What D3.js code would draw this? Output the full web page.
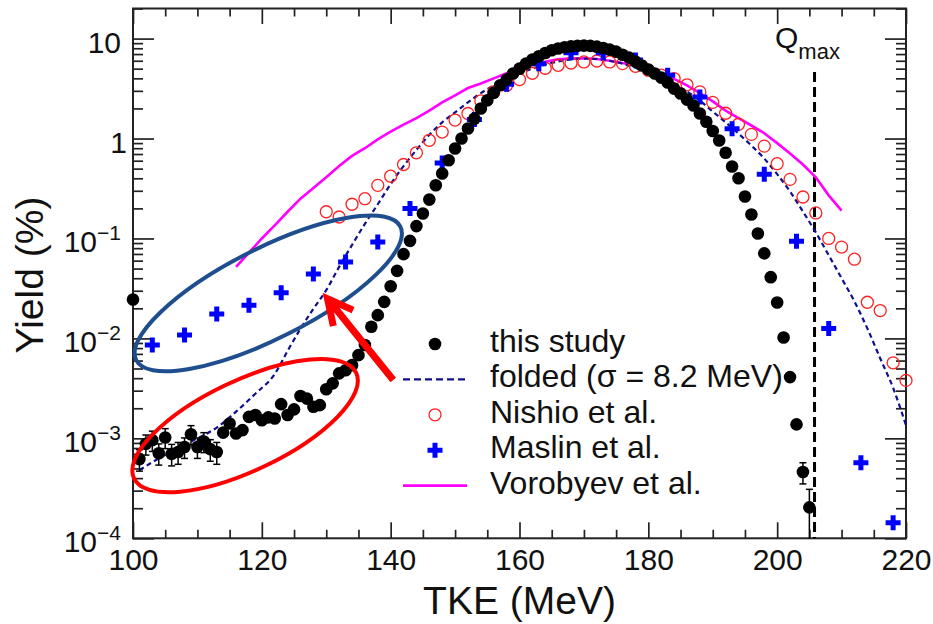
<!DOCTYPE html>
<html>
<head>
<meta charset="utf-8">
<script src="https://cdn.jsdelivr.net/npm/d3@7"></script>
<style>
  body { margin: 0; background: #fff; }
  svg { display: block; font-family: "Liberation Sans", Arial, sans-serif; }
</style>
</head>
<body>
<svg id="chart" width="933" height="624"></svg>
<script>
// this study (1 MeV bins)
const studyTke = [100,101,102,103,104,105,106,107,108,109,110,111,112,113,114,115,116,117,118,119,
  120,121,122,123,124,125,126,127,128,129,130,131,132,133,134,135,136,137,138,139,
  140,141,142,143,144,145,146,147,148,149,150,151,152,153,154,155,156,157,158,159,
  160,161,162,163,164,165,166,167,168,169,170,171,172,173,174,175,176,177,178,179,
  180,181,182,183,184,185,186,187,188,189,190,191,192,193,194,195,196,197,198,199,
  200,201,202,203,204,205];
const studyYield = [0.0245,6.2e-4,8.8e-4,9.6e-4,7.1e-4,1.02e-3,7.0e-4,7.3e-4,8.2e-4,1.1e-3,8.2e-4,9.3e-4,7.8e-4,7.3e-4,1.14e-3,1.41e-3,1.12e-3,1.21e-3,1.64e-3,1.71e-3,
  1.52e-3,1.62e-3,1.58e-3,2.2e-3,1.71e-3,1.95e-3,2.65e-3,2.5e-3,2.07e-3,2.15e-3,3.1e-3,3.55e-3,4.47e-3,4.8e-3,5.4e-3,6.8e-3,8.6e-3,0.0131,0.0171,0.0232,
  0.0333,0.0474,0.0697,0.0946,0.133,0.178,0.245,0.341,0.447,0.607,0.794,1.0,1.26,1.58,2.0,2.41,2.86,3.41,3.89,4.47,
  5.0,5.62,6.17,6.65,7.18,7.64,7.95,8.2,8.35,8.45,8.5,8.45,8.3,8.05,7.75,7.4,6.9,6.45,5.9,5.37,
  4.9,4.47,4.07,3.63,3.16,2.82,2.45,2.14,1.78,1.47,1.19,0.955,0.72,0.525,0.40,0.263,0.174,0.112,0.071,0.041,
  0.0229,0.0102,0.0041,0.00138,4.6e-4,2.04e-4];
const studyErr = [0,1.5e-4,2.0e-4,2.2e-4,1.7e-4,2.3e-4,1.7e-4,1.8e-4,1.9e-4,2.4e-4,1.9e-4,2.1e-4,1.9e-4,1.8e-4,0,0,0,0,0,0,
  0,0,0,0,0,0,0,0,0,0,0,0,0,0,0,0,0,0,0,0,
  0,0,0,0,0,0,0,0,0,0,0,0,0,0,0,0,0,0,0,0,
  0,0,0,0,0,0,0,0,0,0,0,0,0,0,0,0,0,0,0,0,
  0,0,0,0,0,0,0,0,0,0,0,0,0,0,0,0,0,0,0,0,
  0,0,0,0,1.1e-4,1.05e-4];

// folded (sigma = 8.2 MeV)
const foldedTke = [101,104,107,110,113,116,119,122,124,126,128,130,132,134,136,138,140,142,144,146,148,
  150,152,154,156,158,160,162,164,166,168,170,172,174,176,178,180,182,184,186,188,
  190,192,194,196,198,200,202,204,206,208,210,212,214,216,218,220];
const foldedYield = [4.8e-4,6.3e-4,8.0e-4,1.0e-3,1.28e-3,1.85e-3,2.8e-3,4.4e-3,7.5e-3,0.0125,0.0198,0.0304,0.052,0.086,0.14,0.22,0.35,0.53,0.77,1.09,1.45,
  1.83,2.3,2.85,3.4,3.95,4.5,5.0,5.5,5.9,6.2,6.3,6.25,6.0,5.6,5.1,4.6,4.05,3.55,2.95,2.4,
  1.86,1.45,1.12,0.85,0.63,0.44,0.295,0.186,0.115,0.068,0.04,0.0234,0.0126,0.0063,0.0032,0.00135];

// Nishio et al.
const nishioTke = [130,132,134,136,138,140,142,144,146,148,150,152,154,156,158,160,162,164,166,168,
  170,172,174,176,178,180,182,184,186,188,190,192,194,196,198,200,202,204,206,208,
  210,212,214,216,218,220];
const nishioYield = [0.185,0.164,0.22,0.25,0.34,0.42,0.55,0.72,0.96,1.16,1.53,1.78,2.38,2.92,3.41,3.89,4.5,5.05,5.4,5.7,
  5.84,5.97,5.84,5.62,5.28,4.82,4.3,3.98,3.45,2.93,2.3,1.79,1.39,1.1,0.84,0.56,0.39,0.26,0.18,0.1,
  0.082,0.062,0.023,0.019,0.0057,0.0038];

// Maslin et al.
const maslinTke = [103,108,113,118,123,128,133,138,143,148,153,158,163,168,173,178,183,188,193,198,203,208,213,218];
const maslinYield = [0.0086,0.0108,0.0175,0.0215,0.0286,0.044,0.058,0.092,0.2,0.57,1.55,3.5,5.6,7.2,7.2,6.1,4.3,2.6,1.25,0.44,0.094,0.0126,5.7e-4,1.43e-4];

// Vorobyev et al.
const vorobyevTke = [116,118,120,122,124,126,128,130,132,134,136,138,140,142,144,146,148,150,152,154,
  156,158,160,162,164,166,168,170,172,174,176,178,180,182,184,186,188,190,192,194,
  196,198,200,202,204,206,208,210];
const vorobyevYield = [0.052,0.072,0.1,0.135,0.185,0.25,0.32,0.41,0.53,0.67,0.8,0.98,1.17,1.38,1.6,1.9,2.3,2.7,3.2,3.55,
  4.0,4.5,5.0,5.5,5.85,6.2,6.3,6.35,6.25,6.0,5.7,5.35,4.9,4.4,3.95,3.4,2.85,2.35,1.9,1.6,
  1.35,1.13,0.9,0.71,0.55,0.41,0.27,0.19];

// axes
const xTicks = [100, 120, 140, 160, 180, 200, 220];
const yTicks = [1e-4, 1e-3, 1e-2, 1e-1, 1, 10];
const yTickExp = [-4, -3, -2, -1, 0, 1];
const qMax = 205.8;

const legendLabels = ["this study", "folded (\u03c3 = 8.2 MeV)", "Nishio et al.", "Maslin et al.", "Vorobyev et al."];

const svg = d3.select("#chart");
svg.append("rect").attr("width", 933).attr("height", 624).attr("fill", "#fff");

const plotLeft = 133, plotRight = 906, plotTop = 8.5, plotBottom = 538.3;

const x = d3.scaleLinear().domain([100, 220]).range([plotLeft, plotRight]);
const y = d3.scaleLog().domain([1e-4, 20]).range([plotBottom, plotTop]);

const axisColor = "#222";
const xMinor = d3.range(100, 221, 5).filter(v => !xTicks.includes(v));
const yMinor = y.ticks().filter(v => !yTicks.some(t => Math.abs(t - v) / t < 1e-6));

function styleAxis(g) {
  g.select(".domain").remove();
  g.selectAll(".tick line").attr("stroke", axisColor).attr("stroke-width", 1.7);
}

// bottom axis
svg.append("g")
  .attr("transform", `translate(0, ${plotBottom})`)
  .call(d3.axisBottom(x).tickValues(xTicks).tickSize(-16).tickPadding(10).tickFormat(d3.format("d")))
  .call(styleAxis)
  .call(g => g.selectAll("text").attr("font-size", 30).attr("fill", "#111")
    .attr("font-family", "Liberation Sans, Arial, sans-serif"));
svg.append("g")
  .attr("transform", `translate(0, ${plotBottom})`)
  .call(d3.axisBottom(x).tickValues(xMinor).tickSize(-8.5).tickFormat(""))
  .call(styleAxis);

// top axis
svg.append("g")
  .attr("transform", `translate(0, ${plotTop})`)
  .call(d3.axisTop(x).tickValues(xTicks).tickSize(-15.5).tickFormat(""))
  .call(styleAxis);
svg.append("g")
  .attr("transform", `translate(0, ${plotTop})`)
  .call(d3.axisTop(x).tickValues(xMinor).tickSize(-8).tickFormat(""))
  .call(styleAxis);

// left axis
svg.append("g")
  .attr("transform", `translate(${plotLeft}, 0)`)
  .call(d3.axisLeft(y).tickValues(yTicks).tickSize(-21).tickFormat(""))
  .call(styleAxis);
svg.append("g")
  .attr("transform", `translate(${plotLeft}, 0)`)
  .call(d3.axisLeft(y).tickValues(yMinor).tickSize(-10).tickFormat(""))
  .call(styleAxis);

// right axis
svg.append("g")
  .attr("transform", `translate(${plotRight}, 0)`)
  .call(d3.axisRight(y).tickValues(yTicks).tickSize(-21).tickFormat(""))
  .call(styleAxis);
svg.append("g")
  .attr("transform", `translate(${plotRight}, 0)`)
  .call(d3.axisRight(y).tickValues(yMinor).tickSize(-10).tickFormat(""))
  .call(styleAxis);

// y tick labels with exponents
const yLabels = svg.append("g")
  .attr("font-size", 30)
  .attr("fill", "#111")
  .attr("text-anchor", "end");
yTicks.forEach((t, i) => {
  const e = yTickExp[i];
  const txt = yLabels.append("text")
    .attr("x", e === 0 ? 127 : 121)
    .attr("y", y(t) + 14);
  if (e === 0) {
    txt.text("1");
  } else if (e === 1) {
    txt.text("10");
  } else {
    txt.append("tspan").text("10");
    txt.append("tspan").attr("font-size", 21).attr("dy", -12).text("\u2212" + (-e));
  }
});

// frame
svg.append("rect")
  .attr("x", plotLeft).attr("y", plotTop)
  .attr("width", plotRight - plotLeft).attr("height", plotBottom - plotTop)
  .attr("fill", "none")
  .attr("stroke", axisColor)
  .attr("stroke-width", 2);

// axis titles
svg.append("text")
  .attr("x", (plotLeft + plotRight) / 2)
  .attr("y", 614)
  .attr("text-anchor", "middle")
  .attr("font-size", 39)
  .attr("fill", "#111")
  .text("TKE (MeV)");

svg.append("text")
  .attr("transform", `translate(43, 275) rotate(-90)`)
  .attr("text-anchor", "middle")
  .attr("font-size", 39)
  .attr("fill", "#111")
  .text("Yield (%)");

// Q max
svg.append("line")
  .attr("x1", x(qMax)).attr("x2", x(qMax))
  .attr("y1", 72).attr("y2", plotBottom)
  .attr("stroke", "#000")
  .attr("stroke-width", 3)
  .attr("stroke-dasharray", "10,5");
const qLabel = svg.append("text")
  .attr("x", 775)
  .attr("y", 48)
  .attr("font-size", 30)
  .attr("fill", "#111");
qLabel.append("tspan").text("Q");
qLabel.append("tspan").attr("font-size", 22).attr("dy", 11).text("max");

// legend
const legendRow = i => 344 + i * 35.4;
const legendMarkX = 435;
const legend = svg.append("g");
legendLabels.forEach((label, i) => {
  legend.append("text")
    .attr("x", 490)
    .attr("y", legendRow(i) + 8)
    .attr("font-size", 32)
    .attr("fill", "#111")
    .text(label);
});
legend.append("circle")
  .attr("cx", legendMarkX).attr("cy", legendRow(0)).attr("r", 6.3).attr("fill", "#000");
legend.append("line")
  .attr("x1", 403).attr("x2", 467)
  .attr("y1", legendRow(1)).attr("y2", legendRow(1))
  .attr("stroke", "#10108a").attr("stroke-width", 2.2).attr("stroke-dasharray", "7,4");
legend.append("circle")
  .attr("cx", legendMarkX).attr("cy", legendRow(2)).attr("r", 6)
  .attr("fill", "none").attr("stroke", "#f22").attr("stroke-width", 1.3);
legend.append("path")
  .attr("transform", `translate(${legendMarkX}, ${legendRow(3)})`)
  .attr("d", d3.symbol(d3.symbolCross, 125)())
  .attr("fill", "#0000ff");
legend.append("line")
  .attr("x1", 403).attr("x2", 467)
  .attr("y1", legendRow(4)).attr("y2", legendRow(4))
  .attr("stroke", "#ff00ff").attr("stroke-width", 2.6);

// Vorobyev line
const line = d3.line().x(d => x(d[0])).y(d => y(d[1]));
svg.append("path")
  .datum(vorobyevTke.map((t, i) => [t, vorobyevYield[i]]))
  .attr("fill", "none")
  .attr("stroke", "#ff00ff")
  .attr("stroke-width", 2.6)
  .attr("d", line);

// folded line
svg.append("path")
  .datum(foldedTke.map((t, i) => [t, foldedYield[i]]))
  .attr("fill", "none")
  .attr("stroke", "#10108a")
  .attr("stroke-width", 2.2)
  .attr("stroke-dasharray", "5,3.5")
  .attr("d", line.curve(d3.curveMonotoneX));

// Nishio circles
svg.append("g").selectAll("circle")
  .data(nishioTke.map((t, i) => [t, nishioYield[i]]))
  .enter().append("circle")
    .attr("cx", d => x(d[0]))
    .attr("cy", d => y(d[1]))
    .attr("r", 6)
    .attr("fill", "none")
    .attr("stroke", "#f22")
    .attr("stroke-width", 1.3);

// Maslin crosses
svg.append("g").selectAll("path")
  .data(maslinTke.map((t, i) => [t, maslinYield[i]]))
  .enter().append("path")
    .attr("transform", d => `translate(${x(d[0])}, ${y(d[1])})`)
    .attr("d", d3.symbol(d3.symbolCross, 125)())
    .attr("fill", "#0000ff");

// this study: error bars and points
const study = studyTke.map((t, i) => ({ t: t, v: studyYield[i], e: studyErr[i] }));
const errG = svg.append("g").attr("stroke", "#000").attr("stroke-width", 1.5);
study.filter(d => d.e > 0).forEach(d => {
  const y1 = Math.min(plotBottom, y(Math.max(d.v - d.e, 1e-4)));
  const y2 = y(d.v + d.e);
  errG.append("line").attr("x1", x(d.t)).attr("x2", x(d.t)).attr("y1", y1).attr("y2", y2);
  errG.append("line").attr("x1", x(d.t) - 3.5).attr("x2", x(d.t) + 3.5).attr("y1", y2).attr("y2", y2);
  if (y1 < plotBottom - 1) {
    errG.append("line").attr("x1", x(d.t) - 3.5).attr("x2", x(d.t) + 3.5).attr("y1", y1).attr("y2", y1);
  }
});
svg.append("g").selectAll("circle")
  .data(study)
  .enter().append("circle")
    .attr("cx", d => x(d.t))
    .attr("cy", d => y(d.v))
    .attr("r", 6.3)
    .attr("fill", "#000");

// annotations
svg.append("ellipse")
  .attr("transform", `translate(${x(121.0)}, ${y(0.0282)}) rotate(-26.8)`)
  .attr("rx", 148).attr("ry", 45)
  .attr("fill", "none")
  .attr("stroke", "#1f4e8f")
  .attr("stroke-width", 4);

svg.append("ellipse")
  .attr("transform", `translate(${x(117.4)}, ${y(1.34e-3)}) rotate(-25.4)`)
  .attr("rx", 123).attr("ry", 45)
  .attr("fill", "none")
  .attr("stroke", "#ff0000")
  .attr("stroke-width", 4);

// red arrow
const tail = [x(140.4), y(3.83e-3)];
const tip = [x(130.2), y(0.025)];
const ang = Math.atan2(tail[1] - tip[1], tail[0] - tip[0]);
const barb = 28, spread = 27 * Math.PI / 180;
svg.append("path")
  .attr("d", `M${tail[0]},${tail[1]}L${tip[0] + 4 * Math.cos(ang)},${tip[1] + 4 * Math.sin(ang)}` +
    `M${tip[0] + barb * Math.cos(ang + spread)},${tip[1] + barb * Math.sin(ang + spread)}` +
    `L${tip[0]},${tip[1]}` +
    `L${tip[0] + barb * Math.cos(ang - spread)},${tip[1] + barb * Math.sin(ang - spread)}`)
  .attr("fill", "none")
  .attr("stroke", "#ff0000")
  .attr("stroke-width", 7)
  .attr("stroke-linejoin", "miter");
</script>
</body>
</html>
